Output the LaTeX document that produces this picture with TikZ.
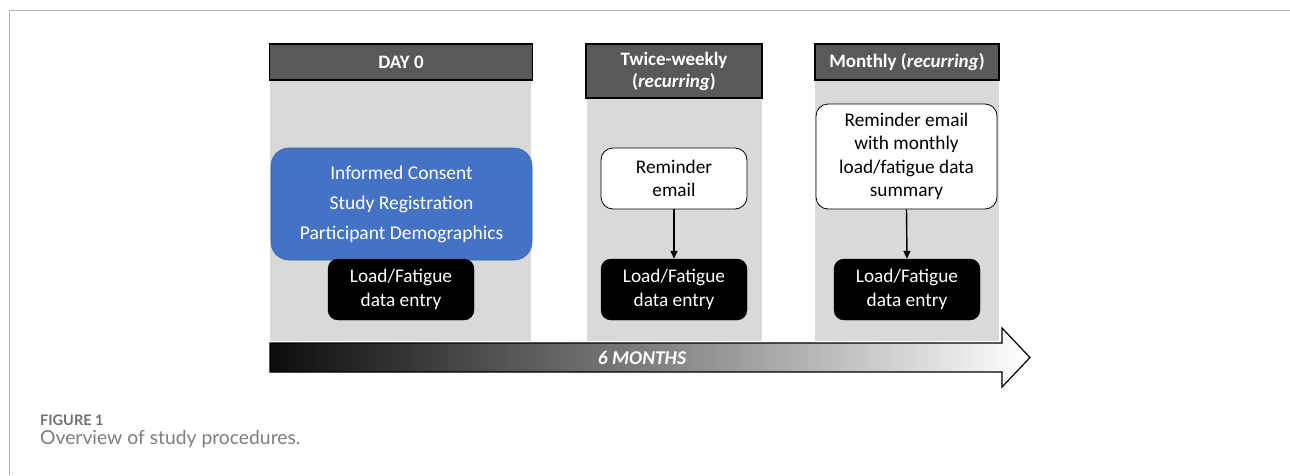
\documentclass[tikz,border=0pt]{standalone}
\usepackage{fontspec}
\setmainfont{Carlito}
\newfontfamily\capfont{Lato}
\usetikzlibrary{arrows.meta}
\definecolor{hdrgray}{HTML}{595959}
\definecolor{bggray}{HTML}{D9D9D9}
\definecolor{boxblue}{HTML}{4472C4}
\definecolor{framegray}{HTML}{B5B5B5}
\definecolor{capgray}{HTML}{707070}
\begin{document}
\begin{tikzpicture}[x=1pt,y=-1pt,
  hdr/.style={draw=black, line width=1.5pt, fill=hdrgray, text=white,
    font=\fontsize{19}{22}\selectfont\bfseries, align=center, inner sep=0pt},
  bgcol/.style={fill=bggray, draw=none, inner sep=0pt},
  bluebox/.style={fill=boxblue, draw=boxblue!85!black, line width=0.6pt, rounded corners=18pt,
    text=white, align=center, inner sep=0pt, font=\fontsize{19.5}{30}\selectfont},
  remind/.style={fill=white, draw=black, line width=0.8pt, rounded corners=12pt,
    align=center, inner sep=0pt, font=\fontsize{19.3}{23.5}\selectfont},
  entry/.style={fill=black, draw=black, rounded corners=10pt, text=white,
    align=center, inner sep=0pt, minimum width=146pt, minimum height=61pt,
    font=\fontsize{19.3}{23.5}\selectfont},
  flow/.style={-{Triangle[length=8pt,width=7pt]}, line width=1.4pt, black}
]
\useasboundingbox (0,0) rectangle (1290,475);
% frame
\draw[framegray, line width=1.5pt] (9.5,475) |- (1290,10.5);

% column backgrounds
\node[bgcol, minimum width=261pt, minimum height=261pt] (bg1) at (400.5,210.5) {};
\node[bgcol, minimum width=175pt, minimum height=243pt] (bg2) at (674.5,219.5) {};
\node[bgcol, minimum width=184pt, minimum height=261pt] (bg3) at (907,210.5) {};

% headers
\node[hdr, minimum width=263pt, minimum height=36pt] (h1) at (401,62) {DAY 0};
\node[hdr, minimum width=176pt, minimum height=54pt] (h2) at (674,71) {Twice-weekly\\(\textit{recurring})};
\node[hdr, minimum width=184pt, minimum height=36pt] (h3) at (907,62) {Monthly (\textit{recurring})};

% column 1
\node[bluebox, minimum width=261pt, minimum height=112pt] (b1) at (401.5,204)
  {Informed Consent\\Study Registration\\Participant Demographics};
\node[entry] (e1) at (401,289.5) {Load/Fatigue\\data entry};

% column 2
\node[remind, minimum width=146pt, minimum height=61pt] (r2) at (674,178.5) {Reminder\\email};
\node[entry] (e2) at (674,289.5) {Load/Fatigue\\data entry};
\draw[flow] (r2.south) -- (e2.north);

% column 3
\node[remind, minimum width=181pt, minimum height=105pt] (r3) at (906.5,156.5)
  {Reminder email\\with monthly\\load/fatigue data\\summary};
\node[entry] (e3) at (907,289.5) {Load/Fatigue\\data entry};
\draw[flow] (r3.south) -- (e3.north);

% timeline arrow
\draw[line width=1.2pt, black, left color=black!95, right color=white, middle color=black!50]
  (270,343) -- (1002,343) -- (1002,328) -- (1030,357.5) -- (1002,387) -- (1002,372) -- (270,372) -- cycle;
\node[text=white, font=\fontsize{19.5}{22}\selectfont\bfseries\itshape] (tl) at (642,357.5) {6 MONTHS};

% caption
\node[anchor=west, text=capgray, inner sep=0pt, font=\capfont\fontsize{14.5}{16}\selectfont\bfseries] (fig) at (40,420) {FIGURE 1};
\node[anchor=west, text=capgray!90, inner sep=0pt, font=\capfont\fontsize{19.3}{22}\selectfont] (cap) at (40,439.5) {Overview of study procedures.};
\end{tikzpicture}
\end{document}
